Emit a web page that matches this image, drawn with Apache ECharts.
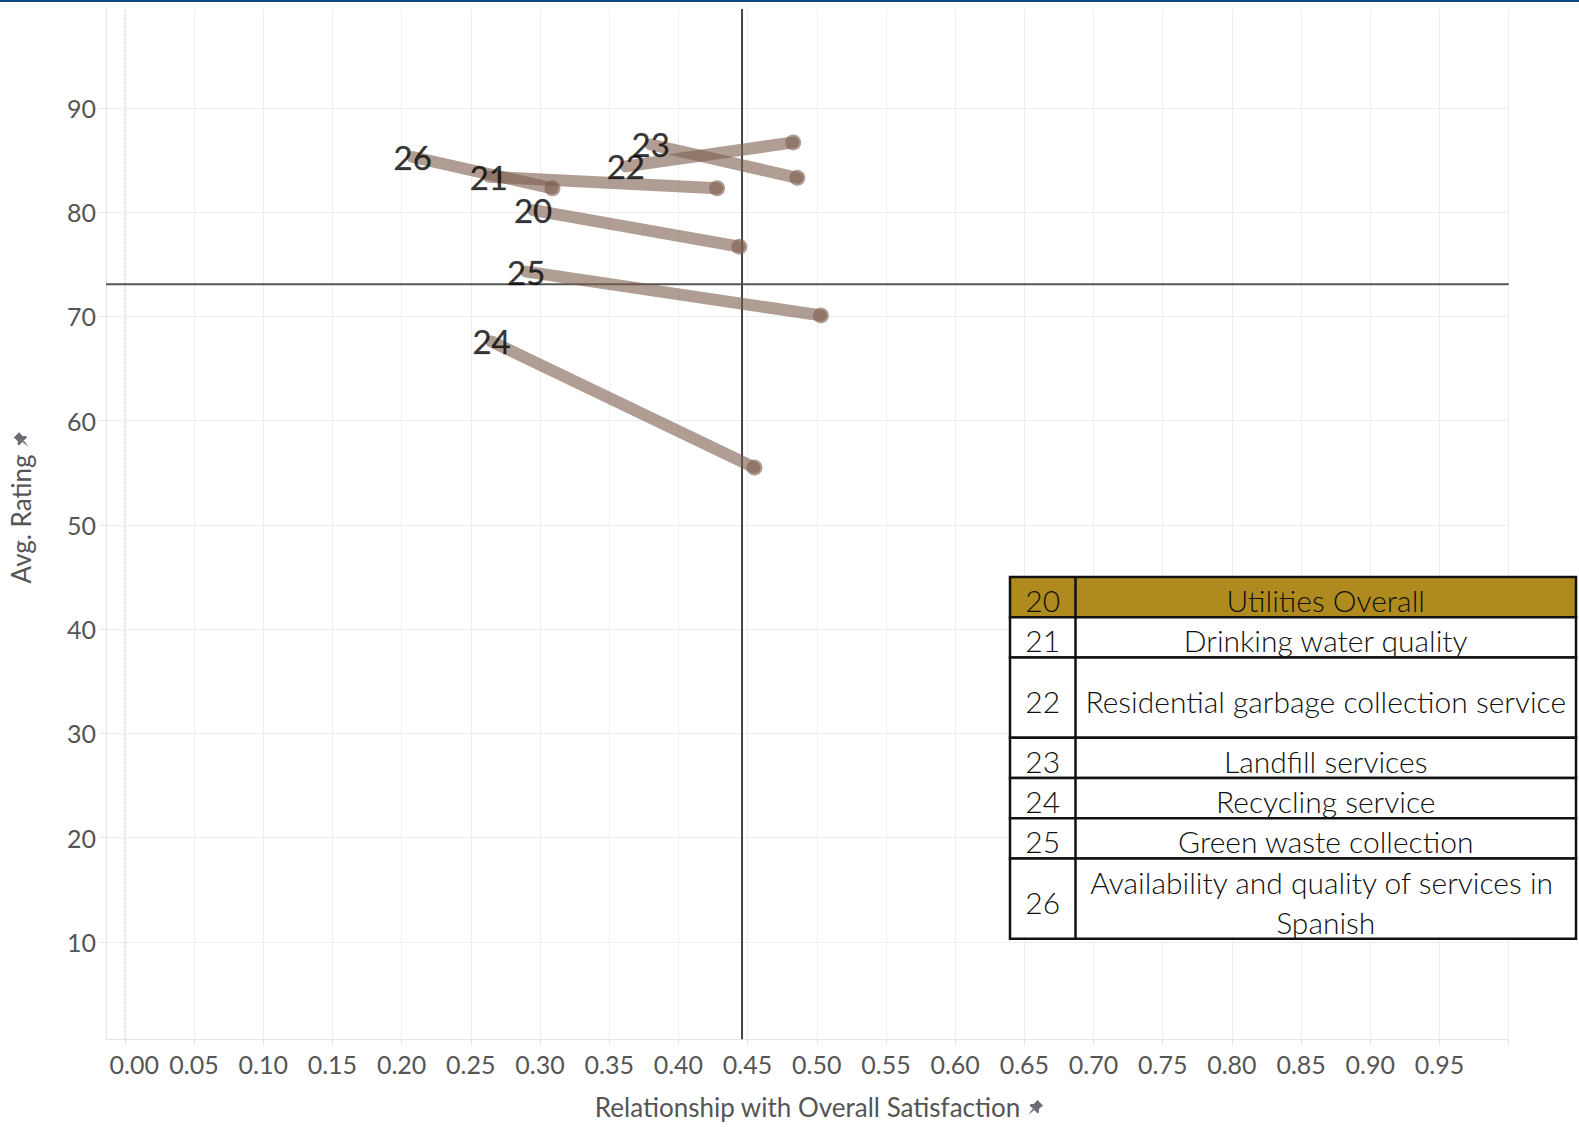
<!DOCTYPE html>
<html>
<head>
<meta charset="utf-8">
<script src="https://cdn.jsdelivr.net/npm/echarts@6/dist/echarts.min.js"></script>
<style>
html,body{margin:0;padding:0;background:#ffffff;}
#chart{width:1579px;height:1127px;}
</style>
</head>
<body>
<div id="chart"></div>
<script>
// ---------- data ----------
const ids = ['20', '21', '22', '23', '24', '25', '26'];
const names = [
  'Utilities Overall',
  'Drinking water quality',
  'Residential garbage collection service',
  'Landfill services',
  'Recycling service',
  'Green waste collection',
  'Availability and quality of services in Spanish'
];
// start point (labelled end) and end point (dot end) of each item
const startX = [0.295, 0.263, 0.362, 0.380, 0.265, 0.290, 0.208];
const startY = [80.2, 83.4, 84.4, 86.5, 67.6, 74.3, 85.3];
const endX   = [0.444, 0.428, 0.483, 0.486, 0.455, 0.503, 0.309];
const endY   = [76.7, 82.3, 86.7, 83.3, 55.5, 70.1, 82.3];

const refX = 0.446;   // vertical reference line
const refY = 73.1;    // horizontal reference line

const xTicks = [0, 0.05, 0.10, 0.15, 0.20, 0.25, 0.30, 0.35, 0.40, 0.45, 0.50, 0.55, 0.60, 0.65, 0.70, 0.75, 0.80, 0.85, 0.90, 0.95, 1.00];
const xTickLabels = ['0.00', '0.05', '0.10', '0.15', '0.20', '0.25', '0.30', '0.35', '0.40', '0.45', '0.50', '0.55', '0.60', '0.65', '0.70', '0.75', '0.80', '0.85', '0.90', '0.95'];
const yTicks = [10, 20, 30, 40, 50, 60, 70, 80, 90];
const yTickLabels = ['10', '20', '30', '40', '50', '60', '70', '80', '90'];
const xRange = [-0.0136, 1.0];
const yRange = [0.65, 99.5];

const xTitle = 'Relationship with Overall Satisfaction';
const yTitle = 'Avg. Rating';

// ---------- styles ----------
const FONT = 'Lato, "Open Sans", sans-serif';
const lineColor = 'rgba(123,93,77,0.6)';
const gridColor = '#eeeeee';
const axisTextColor = '#555555';

const pinSvg = "<svg xmlns='http://www.w3.org/2000/svg' viewBox='0 0 16 16'>" +
  "<path fill='#6a6e74' d='M9.5 1 L15 6.5 L13.6 7.2 L11 9.8 L11.2 12.6 L10 13.8 L2.2 6 L3.4 4.8 L6.2 5 L8.8 2.4 Z'/>" +
  "<path fill='#6a6e74' d='M5.2 9.4 L1 15 L6.6 10.8 Z'/></svg>";
const pinUrl = 'data:image/svg+xml;charset=utf-8,' + encodeURIComponent(pinSvg);

const chart = echarts.init(document.getElementById('chart'), null, {renderer: 'svg'});

// reference lines as two-point line series
function refSeries(data, style) {
  return {
    type: 'line', z: 1, silent: true, symbol: 'none', showSymbol: false,
    data: data, lineStyle: style, emphasis: {disabled: true}
  };
}
const refLines = [
  refSeries([[0, yRange[0]], [0, yRange[1]]], {color: '#b5b5b5', width: 1, type: [1, 3]}),
  refSeries([[refX, yRange[0]], [refX, yRange[1]]], {color: '#444444', width: 2}),
  refSeries([[xRange[0], refY], [xRange[1], refY]], {color: '#555555', width: 2})
];

// line series for each item
const itemSeries = ids.map((id, i) => ({
  type: 'line',
  name: id,
  z: 2,
  silent: true,
  data: [[startX[i], startY[i]], [endX[i], endY[i]]],
  symbol: 'circle',
  showSymbol: true,
  symbolSize: (val, params) => (params.dataIndex === 1 ? 16 : 0),
  lineStyle: {color: lineColor, width: 12, cap: 'round'},
  itemStyle: {color: lineColor},
  emphasis: {disabled: true}
}));

// table (legend) built from ids / names
const tableLeft = 1010, tableRight = 1576, colDiv = 1075.5, tableTop = 577, rowUnit = 40.2;
const rowLines = [1, 1, 2, 1, 1, 1, 2];
const tableElems = [];
let ty = tableTop;
ids.forEach((id, i) => {
  const h = rowUnit * rowLines[i];
  tableElems.push({
    type: 'rect', z: 10,
    shape: {x: tableLeft, y: ty, width: tableRight - tableLeft, height: h},
    style: {fill: i === 0 ? '#AF8A1F' : '#ffffff', stroke: '#111111', lineWidth: 2.5}
  });
  tableElems.push({
    type: 'text', z: 11,
    x: (tableLeft + colDiv) / 2, y: ty + h / 2 + 3,
    style: {text: id, fill: '#111', fontSize: 30, fontFamily: FONT, fontWeight: 300,
            align: 'center', verticalAlign: 'middle'}
  });
  tableElems.push({
    type: 'text', z: 11,
    x: (colDiv + tableRight) / 2, y: ty + h / 2 + 3,
    style: {text: names[i], fill: '#111', fontSize: 30, fontFamily: FONT, fontWeight: 300,
            width: 490, overflow: 'break', lineHeight: 40,
            align: 'center', verticalAlign: 'middle'}
  });
  ty += h;
});
tableElems.push({
  type: 'line', z: 12,
  shape: {x1: colDiv, y1: tableTop, x2: colDiv, y2: ty},
  style: {stroke: '#111111', lineWidth: 2.5}
});

const option = {
  animation: false,
  backgroundColor: '#ffffff',
  grid: {left: 106, right: 70.3, top: 9, bottom: 87.7},
  xAxis: {
    type: 'value',
    min: xRange[0], max: xRange[1],
    name: xTitle + ' {pin|}',
    nameLocation: 'middle',
    nameGap: 55,
    nameTextStyle: {
      fontFamily: FONT, fontSize: 26, color: axisTextColor, padding: [0, 0, 0, 24],
      rich: {pin: {width: 17, height: 17, backgroundColor: {image: pinUrl}}}
    },
    axisLine: {show: true, onZero: false, lineStyle: {color: '#e6e6e6', width: 1}},
    axisTick: {show: true, length: 6, customValues: xTicks, lineStyle: {color: '#e6e6e6'}},
    splitLine: {show: true, lineStyle: {color: gridColor, width: 1}},
    axisLabel: {
      customValues: xTicks.slice(0, xTickLabels.length),
      margin: 12,
      fontFamily: FONT, fontSize: 25, color: axisTextColor,
      formatter: (v) => {
        const idx = xTicks.findIndex(t => Math.abs(t - v) < 1e-9);
        const txt = idx >= 0 && idx < xTickLabels.length ? xTickLabels[idx] : '';
        return idx === 0 ? '{first|' + txt + '}' : txt;
      },
      rich: {first: {fontFamily: FONT, fontSize: 25, color: axisTextColor, padding: [0, 0, 0, 19]}}
    }
  },
  yAxis: {
    type: 'value',
    min: yRange[0], max: yRange[1],
    name: yTitle + ' {pin|}',
    nameLocation: 'middle',
    nameGap: 72,
    nameTextStyle: {
      fontFamily: FONT, fontSize: 26, color: axisTextColor, padding: [0, 0, 0, 34],
      rich: {pin: {width: 17, height: 17, backgroundColor: {image: pinUrl}}}
    },
    axisLine: {show: true, onZero: false, lineStyle: {color: '#e6e6e6', width: 1}},
    axisTick: {show: true, length: 6, customValues: yTicks, lineStyle: {color: '#e6e6e6'}},
    splitLine: {show: true, lineStyle: {color: gridColor, width: 1}},
    axisLabel: {
      customValues: yTicks,
      margin: 10,
      fontFamily: FONT, fontSize: 25, color: axisTextColor,
      formatter: (v) => {
        const idx = yTicks.findIndex(t => Math.abs(t - v) < 1e-9);
        return idx >= 0 ? yTickLabels[idx] : '';
      }
    }
  },
  series: [
    ...refLines,
    ...itemSeries,
    {
      type: 'scatter',
      name: 'labels',
      z: 5,
      silent: true,
      data: startX.map((x, i) => [x, startY[i]]),
      symbol: 'circle',
      symbolSize: 1,
      itemStyle: {color: 'rgba(0,0,0,0)'},
      label: {
        show: true,
        position: 'inside',
        formatter: (p) => ids[p.dataIndex],
        fontFamily: FONT, fontSize: 33, color: '#000000',
        textBorderColor: 'rgba(0,0,0,0.55)', textBorderWidth: 0.5
      },
      emphasis: {disabled: true}
    }
  ],
  graphic: [
    {type: 'rect', z: 20, shape: {x: 0, y: 0, width: 1579, height: 2}, style: {fill: '#0d4a82'}},
    ...tableElems
  ]
};
chart.setOption(option);
</script>
</body>
</html>
